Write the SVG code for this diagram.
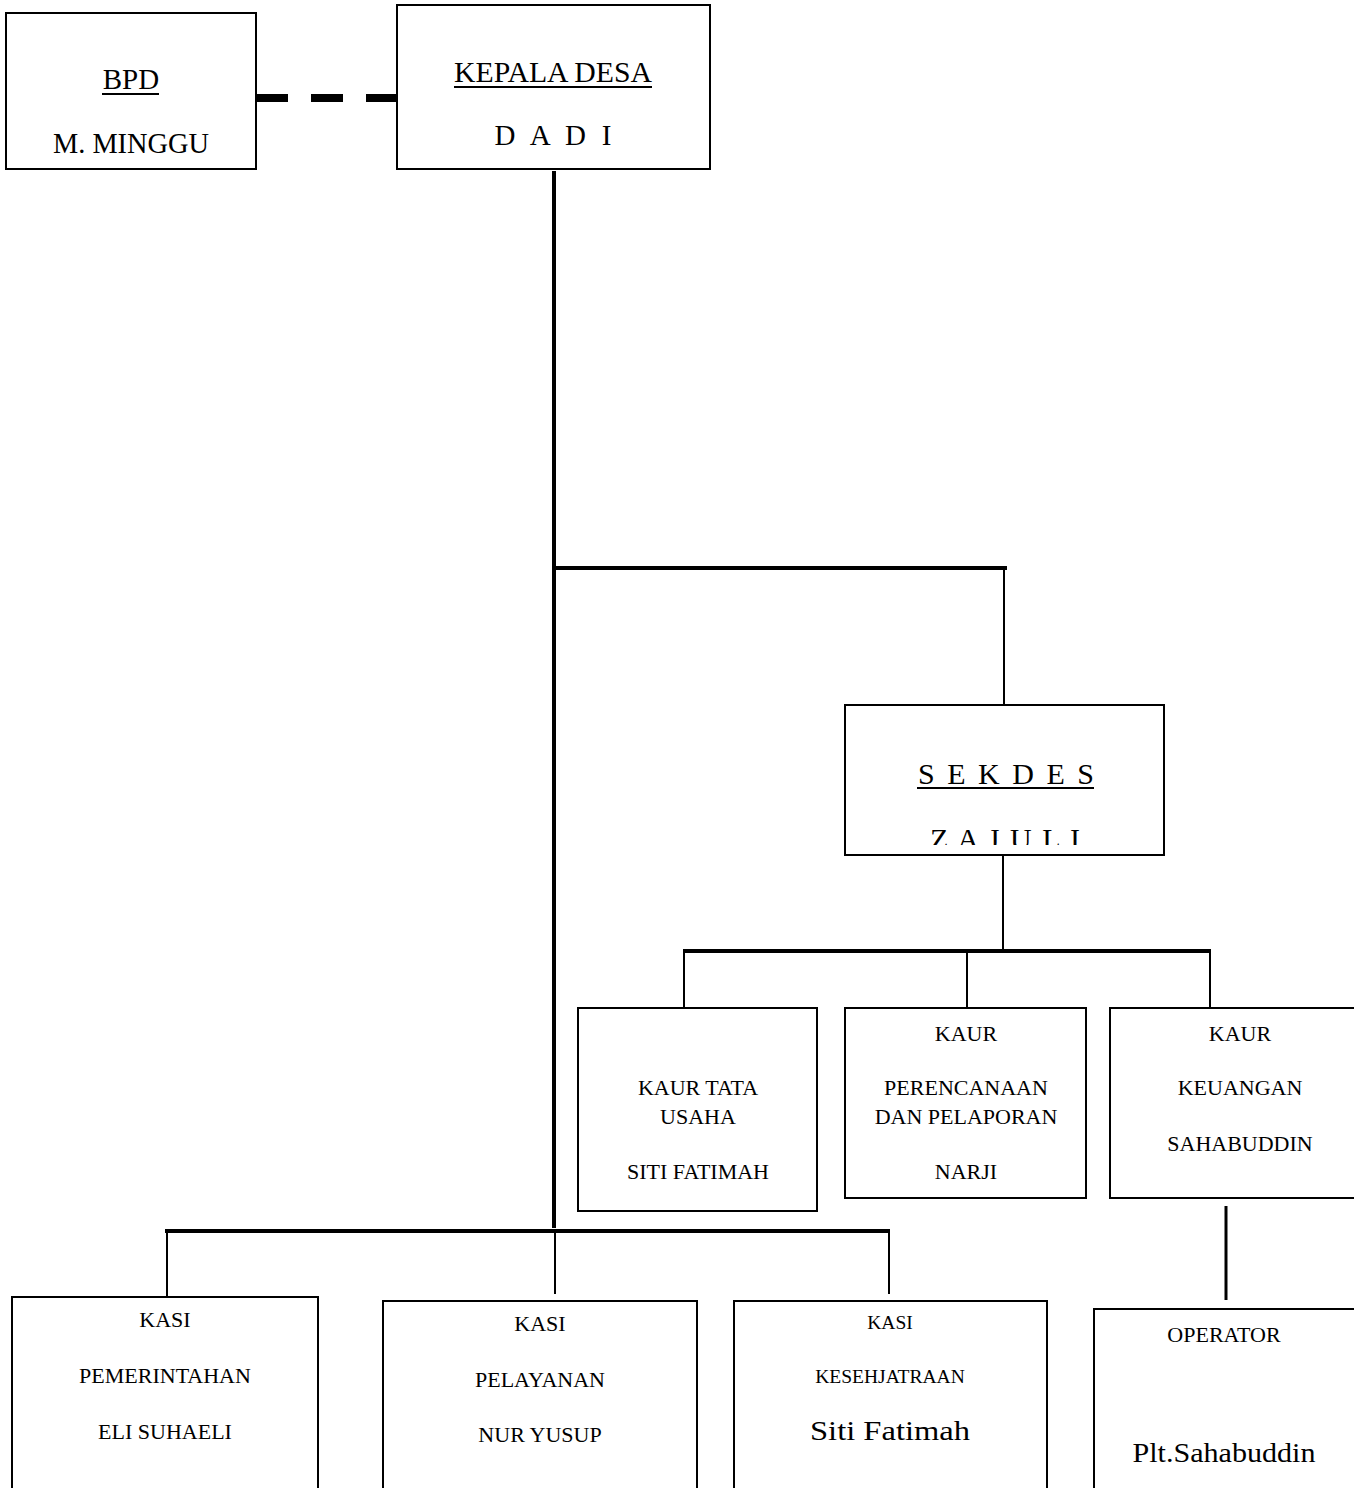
<svg xmlns="http://www.w3.org/2000/svg" width="1354" height="1488" viewBox="0 0 1354 1488">
<style>
.box{fill:#fff;stroke:#000;stroke-width:2}
.t{font-family:"Liberation Serif","Times New Roman",serif;fill:#000;text-anchor:middle}
.big{font-size:29px}
.mid{font-size:22px}
.sm{font-size:19.5px}
.alt{font-family:"Liberation Serif","Times New Roman",serif;fill:#000;text-anchor:middle}
.thick{stroke:#000;stroke-width:4;fill:none}
.thin{stroke:#000;stroke-width:2;fill:none}
.ul{stroke:#000;stroke-width:2}
</style>
<defs>
<clipPath id="sekClip"><rect x="846" y="706" width="317" height="139"/></clipPath>
</defs>
<rect width="1354" height="1488" fill="#fff"/>
<g id="connectors">
<line x1="256" y1="98" x2="398" y2="98" stroke="#000" stroke-width="8" stroke-dasharray="32 23"/>
<line class="thick" x1="554" y1="171" x2="554" y2="1228"/>
<line class="thick" x1="552" y1="568" x2="1007" y2="568"/>
<line class="thin" x1="1004" y1="570" x2="1004" y2="705"/>
<line class="thin" x1="1003" y1="855" x2="1003" y2="950"/>
<line class="thick" x1="683" y1="951" x2="1211" y2="951"/>
<line class="thin" x1="684" y1="951" x2="684" y2="1007"/>
<line class="thin" x1="967" y1="951" x2="967" y2="1007"/>
<line class="thin" x1="1210" y1="951" x2="1210" y2="1007"/>
<line x1="1226" y1="1206" x2="1226" y2="1300" stroke="#000" stroke-width="3"/>
<line class="thick" x1="165" y1="1231" x2="890" y2="1231"/>
<line class="thin" x1="167" y1="1231" x2="167" y2="1297"/>
<line class="thin" x1="555" y1="1231" x2="555" y2="1294"/>
<line class="thin" x1="889" y1="1231" x2="889" y2="1294"/>
</g>
<g id="bpd">
<rect class="box" x="6" y="13" width="250" height="156"/>
<text class="t big" x="131" y="89">BPD</text>
<line class="ul" x1="102" y1="94" x2="159" y2="94"/>
<text class="t big" x="131" y="153" textLength="156" lengthAdjust="spacingAndGlyphs">M. MINGGU</text>
</g>
<g id="kepala-desa">
<rect class="box" x="397" y="5" width="313" height="164"/>
<text class="t big" x="553" y="82" textLength="198" lengthAdjust="spacingAndGlyphs">KEPALA DESA</text>
<line class="ul" x1="454" y1="87" x2="652" y2="87"/>
<text class="t big" x="553" y="145" textLength="117" lengthAdjust="spacing">D A D I</text>
</g>
<g id="sekdes">
<rect class="box" x="845" y="705" width="319" height="150"/>
<text class="t" style="font-size:30px" x="1006" y="784" textLength="176" lengthAdjust="spacing">S E K D E S</text>
<line class="ul" x1="917" y1="788" x2="1094" y2="788"/>
<g clip-path="url(#sekClip)">
<text class="t" style="font-size:30px" x="1005" y="849" textLength="150" lengthAdjust="spacing">Z A J U L I</text>
</g>
</g>
<g id="kaur-tata-usaha">
<rect class="box" x="578" y="1008" width="239" height="203"/>
<text class="t mid" x="698" y="1095">KAUR TATA</text>
<text class="t mid" x="698" y="1124">USAHA</text>
<text class="t mid" x="698" y="1179">SITI FATIMAH</text>
</g>
<g id="kaur-perencanaan">
<rect class="box" x="845" y="1008" width="241" height="190"/>
<text class="t mid" x="966" y="1041">KAUR</text>
<text class="t mid" x="966" y="1095">PERENCANAAN</text>
<text class="t mid" x="966" y="1124">DAN PELAPORAN</text>
<text class="t mid" x="966" y="1179">NARJI</text>
</g>
<g id="kaur-keuangan">
<rect class="box" x="1110" y="1008" width="250" height="190"/>
<text class="t mid" x="1240" y="1041">KAUR</text>
<text class="t mid" x="1240" y="1095">KEUANGAN</text>
<text class="t mid" x="1240" y="1151">SAHABUDDIN</text>
</g>
<g id="operator">
<rect class="box" x="1094" y="1309" width="266" height="190"/>
<text class="t mid" x="1224" y="1342">OPERATOR</text>
<text class="alt" style="font-size:28px" x="1224" y="1462" textLength="183" lengthAdjust="spacingAndGlyphs">Plt.Sahabuddin</text>
</g>
<g id="kasi-pemerintahan">
<rect class="box" x="12" y="1297" width="306" height="200"/>
<text class="t mid" x="165" y="1327">KASI</text>
<text class="t mid" x="165" y="1383">PEMERINTAHAN</text>
<text class="t mid" x="165" y="1439">ELI SUHAELI</text>
</g>
<g id="kasi-pelayanan">
<rect class="box" x="383" y="1301" width="314" height="200"/>
<text class="t mid" x="540" y="1331">KASI</text>
<text class="t mid" x="540" y="1387">PELAYANAN</text>
<text class="t mid" x="540" y="1442">NUR YUSUP</text>
</g>
<g id="kasi-kesehjatraan">
<rect class="box" x="734" y="1301" width="313" height="200"/>
<text class="t sm" x="890" y="1329">KASI</text>
<text class="t sm" x="890" y="1383">KESEHJATRAAN</text>
<text class="alt" style="font-size:28px" x="890" y="1440" textLength="160" lengthAdjust="spacingAndGlyphs">Siti Fatimah</text>
</g>
</svg>
